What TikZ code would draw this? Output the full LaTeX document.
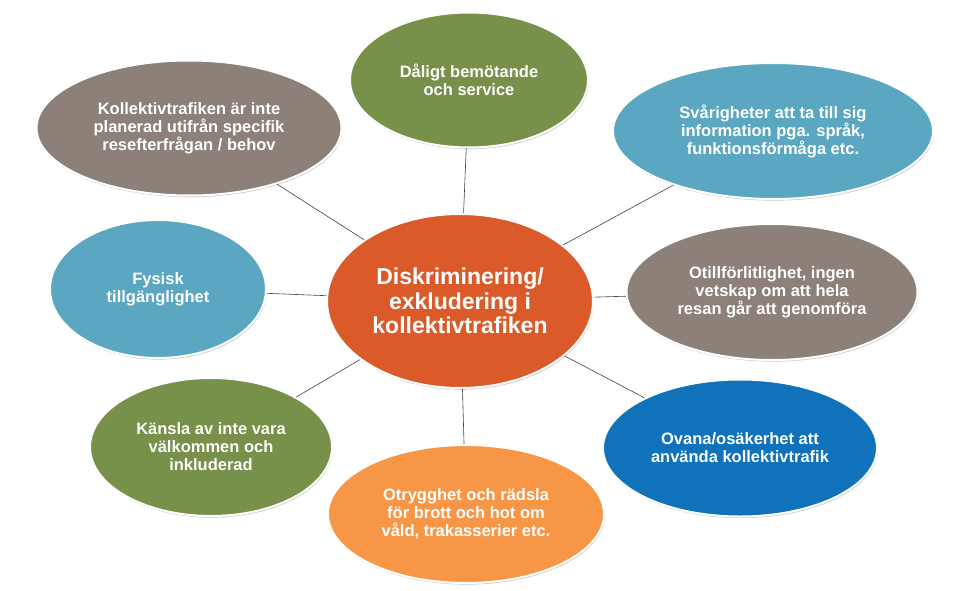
\documentclass[tikz,border=0pt]{standalone}
\usepackage{fontspec}
\setmainfont{Liberation Sans}
\usetikzlibrary{shadows,shapes.geometric}
\definecolor{cgrey}{HTML}{8C8079}
\definecolor{cgreen}{HTML}{77904A}
\definecolor{caqua}{HTML}{5BA6C0}
\definecolor{cblue}{HTML}{0F72BA}
\definecolor{corange}{HTML}{F79646}
\definecolor{cred}{HTML}{DA5A2A}
\tikzset{
  bubble/.style={ellipse, draw=white, line width=2pt, text=white, align=center,
    font=\bfseries\fontsize{16.5}{18}\selectfont, inner sep=0pt,
    drop shadow={shadow xshift=0.8pt, shadow yshift=-1.6pt, opacity=0.35, fill=black!60}},
  link/.style={draw=black!75, line width=0.6pt},
}
\begin{document}
\begin{tikzpicture}[x=1pt,y=-1pt]
\useasboundingbox (0,0) rectangle (958,591);
\node[bubble, fill=cred, minimum width=266pt, minimum height=174pt,
  font=\bfseries\fontsize{23}{24.5}\selectfont] (c) at (460,301) {Diskriminering/\\exkludering i\\kollektivtrafiken};
\node[bubble, fill=cgreen, minimum width=238pt, minimum height=135pt] (t) at (469,80) {Dåligt bemötande\\och service};
\node[bubble, fill=cgrey, minimum width=305pt, minimum height=135pt] (tl) at (189,128) {Kollektivtrafiken är inte\\planerad utifrån specifik\\resefterfrågan / behov};
\node[bubble, fill=caqua, minimum width=320pt, minimum height=136pt] (tr) at (773,131) {Svårigheter att ta till sig\\information pga. språk,\\funktionsförmåga etc.};
\node[bubble, fill=caqua, minimum width=216pt, minimum height=138pt] (l) at (158,289) {Fysisk\\tillgänglighet};
\node[bubble, fill=cgrey, minimum width=291pt, minimum height=136pt] (r) at (772,292) {Otillförlitlighet, ingen\\vetskap om att hela\\resan går att genomföra};
\node[bubble, fill=cgreen, minimum width=242pt, minimum height=138pt] (bl) at (211,447) {Känsla av inte vara\\välkommen och\\inkluderad};
\node[bubble, fill=corange, minimum width=276pt, minimum height=138pt] (b) at (466,514) {Otrygghet och rädsla\\för brott och hot om\\våld, trakasserier etc.};
\node[bubble, fill=cblue, minimum width=274pt, minimum height=137pt] (br) at (740,448) {Ovana/osäkerhet att\\använda kollektivtrafik};
\foreach \n in {t,tl,tr,l,r,bl,b,br} \draw[link] (c) -- (\n);
\end{tikzpicture}
\end{document}
